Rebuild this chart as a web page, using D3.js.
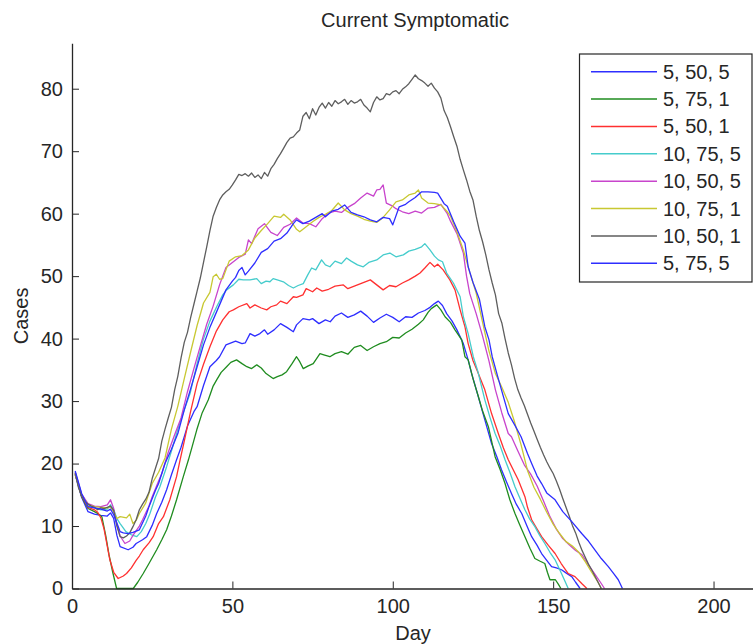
<!DOCTYPE html>
<html>
<head>
<meta charset="utf-8">
<script src="https://cdn.jsdelivr.net/npm/d3@7"></script>
<style>
  body { margin: 0; background: #fff; }
  svg text { font-family: "Liberation Sans", Arial, sans-serif; fill: #262626; }
  .axis path, .axis line { stroke: #262626; }
</style>
</head>
<body>
<div id="chart"></div>
<script>
var labels = ["5, 50, 5", "5, 75, 1", "5, 50, 1", "10, 75, 5", "10, 50, 5", "10, 75, 1", "10, 50, 1", "5, 75, 5"];
var colors = ["#2e2eff", "#1f8c1f", "#ff3030", "#45cccc", "#c844cc", "#c8c832", "#5e5e5e", "#2e2eff"];

var xTicks = [0, 50, 100, 150, 200];
var yTicks = [0, 10, 20, 30, 40, 50, 60, 70, 80];

// [day, cases]
var blue50_5 = [[1,18.2],[3,14.6],[5,12.3],[7,11.9],[9,11.7],[11,11.6],[12,12.1],[13,11.2],[14,8.5],[15,6.7],[17.5,6.2],[19,6.6],[20,7.2],[22,7.8],[23.3,8.3],[25,10.1],[26.4,12],[28,13.8],[29.5,15.8],[31,18.2],[32.6,20.6],[34,22.6],[36,26],[38,28.3],[39,29.1],[41,32.5],[43,35.5],[45,36.5],[46,37.1],[48,39],[50,39.4],[51,39.6],[53,39.2],[54,39.3],[55.5,40.8],[57,40.4],[58.6,40.8],[60,41.4],[61,40.7],[63,41.4],[65,42.4],[67,41.8],[69,41.1],[70,42.2],[72,43.2],[74,43],[75,43.2],[77,42.4],[79,43],[80.5,42.7],[82,43.6],[84,44.1],[86,43.4],[88,43.8],[90,44.4],[92,43.6],[94,42.6],[96,43.3],[98,43.9],[100,43.4],[102,42.7],[104,43.5],[106,43.4],[108,44.1],[110,44.5],[111.6,45],[113,45.6],[114.2,46],[115.5,45.3],[116.8,44],[118.5,42.8],[120,41.4],[122,39.2],[123.5,36.6],[124.6,34.4],[126.5,31],[128.7,27],[130.8,23.2],[132.5,21],[133.9,19],[135.5,17],[137,15.2],[138.5,13.5],[140.2,12],[142,9.8],[143.3,8.3],[145,6.9],[146.4,5.6],[148,4.5],[149.5,3.5],[151,3.3],[152.6,3],[154,2.5],[155.8,1.9],[157,1],[158.4,0]];

var green75_1 = [[1,18.3],[3,14.7],[5,12.8],[7,12.3],[8,12],[9.3,11.5],[10.5,8.5],[11.5,5.5],[12.7,2.6],[13.9,0],[19.1,0],[20.5,1],[22.2,2.4],[24,4],[26.4,6.2],[28,7.8],[29.5,9.4],[31,11.6],[32.6,14.2],[34.7,17.9],[36.3,20.6],[37.5,22.8],[38.9,25.4],[40.5,28],[42.5,30.2],[44,32.4],[45.1,33.4],[46.5,34.6],[48.2,35.5],[49.5,36.2],[51.3,36.6],[53,36],[54.5,35.5],[56,35.2],[57.6,35.8],[59,35.3],[60.5,34.4],[62.7,33.6],[64,33.9],[65.5,34.2],[66.9,34.7],[68.5,35.9],[70,37.1],[71,36.3],[72.1,35.2],[73.5,35.6],[75.2,36],[77.3,37.6],[78.5,37.4],[80.4,37.1],[82,37.6],[84,37.9],[86,37.5],[88,38.6],[90,38.9],[92,38.1],[94,38.7],[96,39.2],[98,39.5],[100,40.2],[102,40.1],[104,40.9],[106,41.5],[108,42.3],[109.5,43],[111,44.2],[112,44.8],[113.7,45.4],[115,44.6],[116.3,43.5],[118,42.6],[119.4,41.4],[121.5,39.8],[122.5,37.1],[123.5,36.6],[125,33.6],[126.7,30.7],[128,28.4],[129.8,25.9],[131.9,21.1],[133.5,19],[135,16.8],[136.5,14.2],[138.1,12],[139.5,10.3],[141.2,8.3],[142.8,6.4],[144.3,4.8],[145.8,4.4],[147.4,4],[148.2,2.6],[149,1.4],[150.7,1.4],[151.6,0.7],[152.4,0]];

var red50_1 = [[1,18.4],[3,14.8],[5,13],[7,12.6],[8,12.2],[9,11.3],[10,9.5],[11,6.8],[11.8,4.6],[13,2.6],[14.4,1.6],[16,2],[17,2.4],[18.5,3.3],[20,4.5],[21,5.2],[22.2,6.2],[24,7.3],[25.3,8.3],[27,10.4],[28.5,11.5],[30.5,14.2],[32.6,17.9],[33.7,20.6],[35,23.6],[37,28.4],[39,32.8],[41,35.9],[43,38.7],[45,41.2],[47,43],[49,44.3],[50.3,44.6],[52,45.1],[54.5,45.6],[55.5,44.9],[57,45.4],[59,44.9],[60.7,44.6],[62,45.1],[63.8,45.4],[65,46],[67,45.6],[69,46.7],[70,46.6],[72,47],[73,48],[75,47.5],[76.3,48.1],[78,47.6],[80,47.9],[82,48.4],[84.6,48.6],[86,48],[88,48.4],[90,48.8],[92,49.2],[93,49.4],[95,48.6],[97,47.8],[99,48.5],[101,48.3],[103,48.9],[105,49.4],[107,50],[108.5,50.5],[110,51.3],[111.6,52.2],[113,51.5],[114,51.9],[115.7,51],[117.8,49.4],[119.4,47.8],[121,44.6],[122.5,41.9],[123.5,39.2],[125,36.5],[126.2,35],[128.7,31.8],[130.8,28],[132.9,24.8],[134.5,22.5],[136,20.6],[139.1,17.4],[141.2,14.7],[142,13],[143.3,11],[145,9.5],[146.4,8.3],[148.5,6.9],[150.6,5.6],[152.5,4],[154.7,2.4],[156.8,1.9],[158.9,0.8],[160.5,0]];

var cyan75_5 = [[1,18.6],[3,15],[5,13.2],[7,12.9],[9,12.6],[11,12.7],[12,13.4],[13,12.6],[14,11.2],[15,10.4],[16.8,9.1],[18.5,8.6],[20.2,8.3],[21.6,9.1],[23,10.4],[24.3,12],[26,14.6],[27.4,16.3],[29.5,19.5],[31,22],[33,25.5],[35,28.6],[36.8,31.2],[39,36],[40.9,39.8],[43,42.8],[45.1,45.1],[47,47],[48.2,47.8],[50.3,48.6],[52,49.5],[53.4,49.4],[55.5,49.4],[57.6,49.6],[59,48.8],[60.5,49.2],[61.7,49.1],[62.7,49.6],[64,49.4],[65.9,49.1],[67.5,48.5],[69,48.1],[70.5,48.5],[72.1,48.8],[73.5,50.2],[74.7,51.3],[76,51],[77.8,52.6],[79,51.8],[80.4,51.5],[82,52.4],[84,52],[85.6,52.9],[87,52.4],[89,51.8],[90.8,51.5],[92.5,52.2],[95,52.6],[97,53.4],[99.1,53.7],[101,53.1],[103.3,53.4],[105,54],[107,54.3],[109,54.7],[110,55.2],[111.6,54.2],[113,53.2],[114.2,52.6],[115.5,52.3],[116.8,50.5],[118.9,48.9],[121,46.7],[122,43.5],[123.5,40.8],[125.1,37.1],[126.5,34.8],[128.7,30.2],[130.3,27.4],[131.9,24.8],[133.5,22.8],[135,20.6],[136.5,18.6],[138.1,16.3],[139.5,14.6],[141.2,12.6],[142.7,11.1],[144.3,9.9],[145.8,8.5],[147.4,7.2],[149,5.8],[150.6,4.6],[152.6,2.4],[154.7,0]];

var magenta50_5 = [[1,18.6],[3,15.1],[5,13.6],[7,13.2],[9,13.1],[11,13.4],[12,14.2],[13,12.8],[14,10.2],[15,8.4],[16.5,7.2],[18,7.6],[19,8.5],[21,10],[22,11],[24,13.2],[25,14.7],[27,17.2],[28,18.4],[30,21.8],[32,24.6],[34,27.3],[36,31.5],[38,35.2],[40,38.8],[42,42.3],[44,45.2],[46,48.6],[48,51.4],[50,52.2],[52,53],[54,53.5],[55,55.8],[56,55.2],[58,57.6],[60,58.4],[61,57.7],[62,57],[64,56.5],[66,57.8],[68,58.3],[70,59.3],[72,58.5],[74,58.4],[76,57.9],[78,59.2],[80,60.1],[82,60.4],[84,60.2],[86,61],[88,61.6],[90,62.5],[92,63.3],[94,62.8],[95,63.8],[96,63.9],[97,64.6],[98,61.7],[100,61.2],[101,60.8],[103,60.3],[105,60],[107,60.4],[109,60.1],[111,60.9],[113,61],[115,61.5],[117,60],[118,58.8],[120,56.8],[122,53.7],[123,50],[124,47.2],[126,44],[128,40.4],[130,36.4],[132,31.8],[134,28.1],[136,24.8],[137,24.3],[139,22],[141,19.8],[143,18.3],[145,16.4],[147,14],[149,11.5],[151,9.5],[153,8],[155,7],[157,6.1],[159,5.4],[161,3.8],[163,2.3],[165,0.8],[166,0]];

var yellow75_1 = [[1,18.3],[3,14.9],[5,13.4],[7,13.1],[9,13],[11,12.9],[12,13.1],[13,12.2],[14,11.2],[15,11.5],[17,11.3],[18,11.9],[19,10.4],[20,10.9],[21,12],[23,13.7],[25,16.8],[27,18.6],[29,20.9],[31,25.5],[33,29.2],[35,33.6],[37,37.9],[39,42.1],[41,45.7],[43,47.4],[44,49.9],[45,50.3],[46,49.5],[47,49.6],[49,52.4],[51,53.1],[53,53.3],[55,54.2],[57,56.1],[59,57.3],[61,58.4],[63,59.6],[65,59.4],[66,59.9],[68,59],[70,57.5],[71,57.1],[73,57.9],[75,58.7],[77,59.4],[79,59.9],[81,60.5],[83,61.7],[85,60.6],[87,60],[89,59.6],[91,59.1],[93,58.8],[95,58.6],[97,59.4],[99,60.6],[101,61.9],[103,62.2],[105,63],[107,63.3],[108,63.8],[109,62.5],[111,61.7],[113,61.6],[115,61.4],[117,60.3],[118,59.6],[120,57.1],[122,54.2],[124,50.6],[126,47.3],[128,42.6],[130,38],[132,34.4],[134,32.2],[136,29.8],[138,26.6],[140,23],[142,18.9],[144,16.2],[146,14.3],[148,12.2],[150,10.3],[152,8.8],[154,7.5],[156,6.8],[158,5.8],[160,4.3],[162,2.6],[164,1],[165,0]];

var gray50_1 = [[1,18.5],[2,16.2],[3,14.8],[4,14],[5,13.5],[6,13.2],[7,13],[8,12.6],[9,12.9],[10,12.8],[11,13],[12,13.2],[13,12.5],[14,10],[15,8.3],[16,8.1],[17,8.4],[18,8.9],[19,9.9],[20,11],[21,12.6],[22,13.5],[23,14.3],[24,15.4],[25,17.6],[26,19.2],[27,20.8],[28,23.6],[29,25.5],[30,27.3],[31,29],[32,31.8],[33,34],[34,36.9],[35,39.4],[36,41],[37,43.4],[38,45.5],[39,47.6],[40,49.7],[41,52.2],[42,54.7],[43,57.3],[44,59.6],[45,61],[46,62.2],[47,63],[48,63.5],[49,63.9],[50,64.6],[51,65.4],[52,66.3],[53,66.1],[54,66.4],[55,66],[56,66.5],[57,65.8],[58,66.2],[59,65.6],[60,66.6],[61,66],[62,67.2],[63,67.9],[64,68.8],[65,69.6],[66,70.5],[67,71.4],[68,72.1],[69,72.3],[70,72.9],[71,73.4],[72,75.6],[73,76.2],[74,75.2],[75,76.8],[76,75.8],[77,77],[78,77.7],[79,76.9],[80,77.8],[81,77.2],[82,78.1],[83,77.6],[84,77.9],[85,78.3],[86,77.5],[87,78.1],[88,77.7],[89,77.9],[90,78.3],[91,77.4],[92,76.9],[93,76.3],[94,77.8],[95,78.7],[96,78.2],[97,78.4],[98,79.2],[99,79],[100,79.5],[101,79.7],[102,79.2],[103,79.9],[104,80.3],[105,80.8],[106,81.5],[107,82.2],[108,81.6],[109,81.3],[110,80.9],[111,80.4],[112,80.9],[113,80.1],[114,79.5],[115,78.5],[116,76.5],[117,75.4],[118,73.9],[119,72.3],[120,70.8],[121,68.7],[122,67],[123,65.4],[124,63.6],[125,62.2],[126,59.6],[127,57.3],[128,55.5],[129,53.4],[130,51],[131,48.9],[132,47],[133,44],[134,42.5],[135,40],[136,37.7],[137,35.8],[138,33.6],[139,31.8],[140,30.5],[141,29.3],[142,27.9],[143,26.5],[144,25.2],[145,23.9],[146,22.6],[147,21.4],[148,20.3],[149,19.3],[150,18.4],[151,17.2],[152,15.9],[153,14.4],[154,13],[155,11.6],[156,10.1],[157,8.9],[158,7.4],[159,6.1],[160,5],[161,3.9],[162,3],[163,2],[164,1],[165,0]];

var blue75_5 = [[1,18.8],[3,15.2],[5,13.1],[7,12.9],[9,12.7],[11,12.4],[12,12.7],[13,11.8],[14,10.5],[15,9.1],[16,8.9],[17.5,8.8],[19,9],[21,9.4],[23,11.6],[24,13.1],[26,15.7],[27,16.8],[29,20],[31,22.3],[33,24.8],[35,28.6],[37,32],[39,35.5],[41,39],[43,41.8],[45,44.2],[47,46.6],[48,47.8],[50,49.2],[51,49.8],[52,50.9],[53,51.4],[54,50.2],[55,50.8],[57,52.1],[59,53.8],[61,54.4],[63,55.6],[65,56],[67,56.9],[69,58.4],[70,59],[72,58.4],[74,58.8],[76,59.4],[78,60],[79,59.5],[81,60.4],[83,60.7],[85,61.4],[87,60.2],[89,59.8],[91,59.5],[93,59],[95,58.7],[97,59.4],[99,59.2],[100,58.2],[102,61.1],[104,61.5],[105,61.9],[107,62.6],[109,63.5],[111,63.5],[113,63.4],[114,63.3],[116,61.6],[117,61.2],[119,58.7],[121,56.4],[122.5,55.3],[123.5,51.5],[125,49],[127,46.3],[128.7,41.9],[130,39.8],[131,37.1],[133,33.4],[136,28],[138,26.2],[140,24.3],[142,21.6],[143.3,20],[145,18],[146.4,16.8],[148,15.3],[150.6,14.2],[153,12.3],[155.8,10.7],[158.9,8.8],[161,7.6],[163,6.2],[165,4.8],[167.2,3.5],[169,2.3],[170.3,1.4],[171.6,0]];

var allSeries = [blue50_5, green75_1, red50_1, cyan75_5, magenta50_5, yellow75_1, gray50_1, blue75_5];

var width = 753, height = 644;
var plotLeft = 72, plotRight = 753, plotTop = 43.3, plotBottom = 588.5;

var svg = d3.select("#chart").append("svg")
  .attr("width", width)
  .attr("height", height);

var x = d3.scaleLinear().domain([0, 212.3]).range([plotLeft, plotRight]);
var y = d3.scaleLinear().domain([0, 87.27]).range([plotBottom, plotTop]);

var line = d3.line()
  .x(function(d){return x(d[0]);})
  .y(function(d){return y(d[1]);});

svg.selectAll("path.series")
  .data(allSeries).enter()
  .append("path")
    .attr("class", "series")
    .attr("d", line)
    .attr("fill", "none")
    .attr("stroke", function(d, i){return colors[i];})
    .attr("stroke-width", 1.3)
    .attr("stroke-linejoin", "round");

var xAxis = svg.append("g")
  .attr("class", "axis")
  .attr("transform", "translate(0," + plotBottom + ")")
  .call(d3.axisBottom(x).tickValues(xTicks).tickSizeInner(-7).tickSizeOuter(0).tickPadding(10));

var yAxis = svg.append("g")
  .attr("class", "axis")
  .attr("transform", "translate(" + plotLeft + ",0)")
  .call(d3.axisLeft(y).tickValues(yTicks).tickSizeInner(-7).tickSizeOuter(0).tickPadding(9));

svg.selectAll(".axis text")
  .style("font-size", "20px")
  .style("font-family", "'Liberation Sans', Arial, sans-serif")
  .attr("fill", "#262626");
svg.selectAll(".axis .domain").attr("stroke-width", 1.3);

svg.append("text")
  .attr("x", 415)
  .attr("y", 27)
  .attr("text-anchor", "middle")
  .style("font-size", "20px")
  .text("Current Symptomatic");

svg.append("text")
  .attr("x", 413)
  .attr("y", 640)
  .attr("text-anchor", "middle")
  .style("font-size", "20px")
  .text("Day");

svg.append("text")
  .attr("transform", "translate(28," + ((plotTop + plotBottom) / 2) + ") rotate(-90)")
  .attr("text-anchor", "middle")
  .style("font-size", "20px")
  .text("Cases");

// legend
var legend = svg.append("g").attr("class", "legend");

legend.append("rect")
  .attr("x", 579.5)
  .attr("y", 54)
  .attr("width", 172.5)
  .attr("height", 228)
  .attr("fill", "#fff")
  .attr("stroke", "#262626")
  .attr("stroke-width", 1.2);

var rows = legend.selectAll("g.row")
  .data(labels).enter()
  .append("g")
    .attr("class", "row")
    .attr("transform", function(d, i){return "translate(0," + (71.7 + i * 27.37) + ")";});

rows.append("line")
  .attr("x1", 591)
  .attr("x2", 657)
  .attr("stroke", function(d, i){return colors[i];})
  .attr("stroke-width", 1.5);

rows.append("text")
  .attr("x", 663)
  .attr("dy", "0.35em")
  .style("font-size", "20px")
  .text(function(d){return d;});
</script>
</body>
</html>
